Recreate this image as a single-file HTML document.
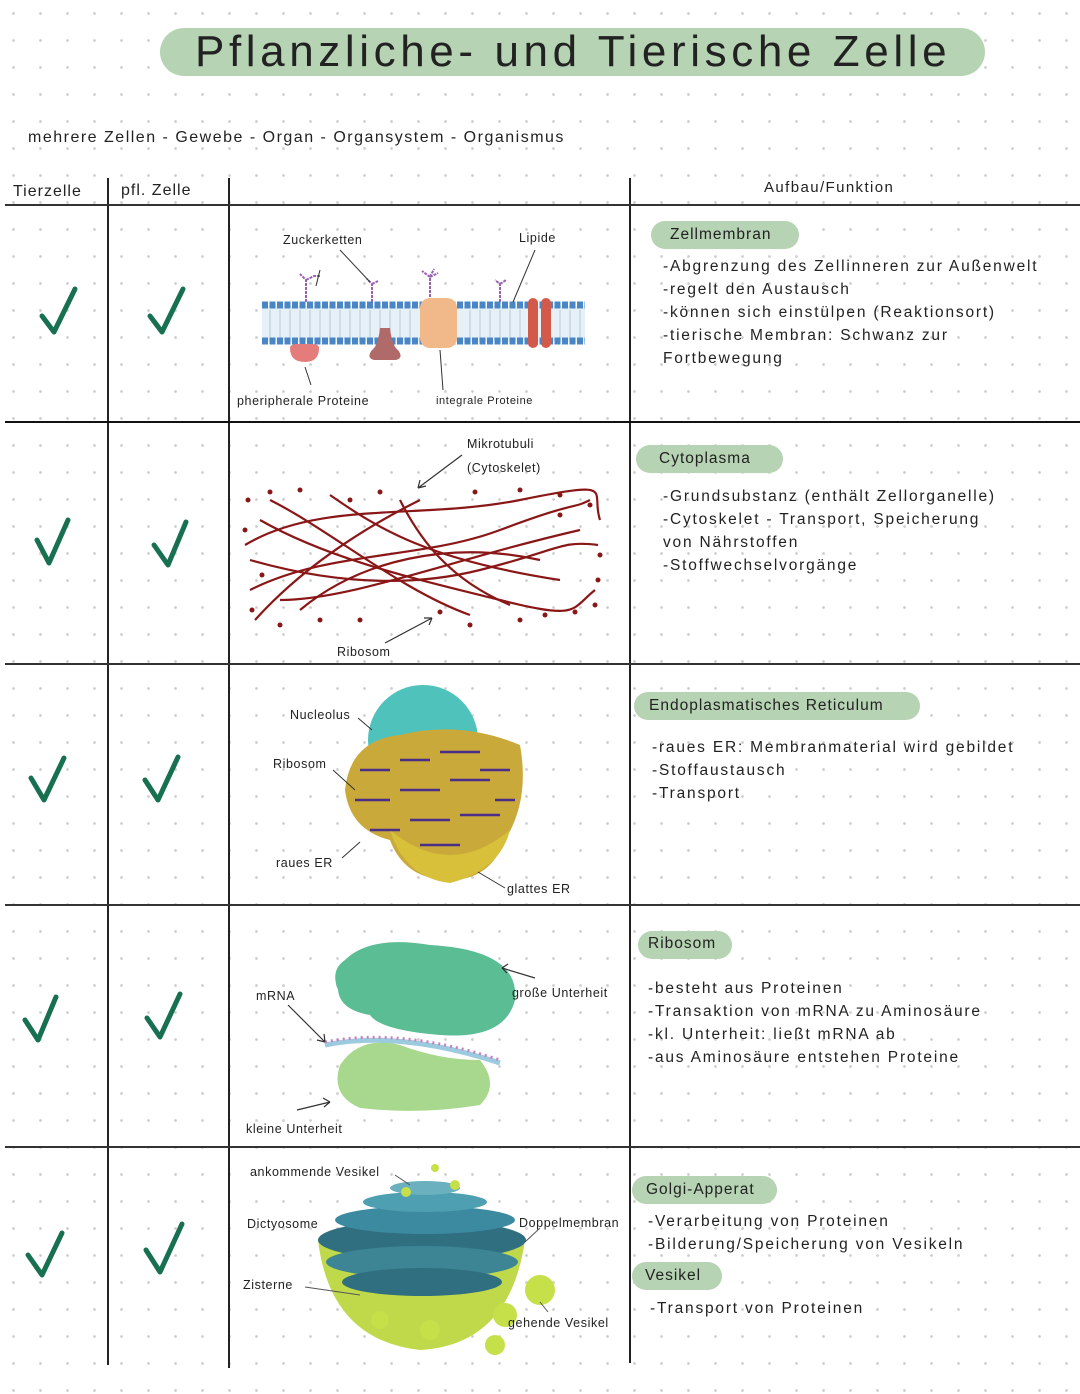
<!DOCTYPE html>
<html><head><meta charset="utf-8">
<style>
html,body{margin:0;padding:0}
body{width:1080px;height:1394px;position:relative;overflow:hidden;background:#fff;
background-image:radial-gradient(circle,#cfcfcf 1.2px,transparent 1.6px);background-size:27px 27px;background-position:0px 0px;
font-family:"Liberation Sans",sans-serif;color:#222}
.t{position:absolute;white-space:nowrap;letter-spacing:1px}
.pill{position:absolute;background:#b6d3b3;border-radius:20px}
.vl{position:absolute;width:1.5px;background:#222}
.hl{position:absolute;height:1.5px;background:#333}
.lab{font-size:12.5px;letter-spacing:.6px}
.body{font-size:15.5px;line-height:23px;letter-spacing:1.8px}
</style></head><body>
<div class="pill" style="left:160px;top:28px;width:825px;height:48px;border-radius:24px"></div>
<div class="t" style="left:195px;top:27px;font-size:44px;letter-spacing:4.6px">Pflanzliche- und Tierische Zelle</div>
<div class="t" style="left:28px;top:129px;font-size:16px;letter-spacing:1.5px">mehrere Zellen - Gewebe - Organ - Organsystem - Organismus</div>

<div class="t" style="left:13px;top:183px;font-size:16px">Tierzelle</div>
<div class="t" style="left:121px;top:182px;font-size:16px">pfl. Zelle</div>
<div class="t" style="left:764px;top:179px;font-size:15px;letter-spacing:1.4px">Aufbau/Funktion</div>

<div class="vl" style="left:107px;top:178px;height:1187px"></div>
<div class="vl" style="left:228px;top:178px;height:1190px"></div>
<div class="vl" style="left:629px;top:178px;height:1185px"></div>
<div class="hl" style="left:5px;top:204px;width:1075px"></div>
<div class="hl" style="left:5px;top:421px;width:1075px;height:2px;background:#111"></div>
<div class="hl" style="left:5px;top:663px;width:1075px"></div>
<div class="hl" style="left:5px;top:904px;width:1075px"></div>
<div class="hl" style="left:5px;top:1146px;width:1075px"></div>

<svg style="position:absolute;left:0;top:0" width="1080" height="1394">
<g stroke="#17704f" stroke-width="5" fill="none" stroke-linecap="round" stroke-linejoin="round">
<path d="M42 316 L54 332 L75 289"/><path d="M150 316 L162 332 L183 289"/>
<path d="M37 540 L49 563 L68 520"/><path d="M154 545 L168 565 L186 522"/>
<path d="M31 778 L44 800 L64 758"/><path d="M145 780 L158 800 L178 757"/>
<path d="M25 1020 L38 1040 L56 997"/><path d="M147 1018 L160 1037 L180 994"/>
<path d="M28 1255 L42 1275 L62 1233"/><path d="M146 1250 L160 1272 L182 1224"/>
</g>
<rect x="262" y="306" width="323" height="36" fill="#e5f0f7"/>
<g stroke="#b8c8d6" stroke-width="1">
<path d="M270 310v28M280 310v28M290 310v28M300 310v28M310 310v28M320 310v28M330 310v28M340 310v28M350 310v28M360 310v28M370 310v28M380 310v28M390 310v28M400 310v28M410 310v28M470 310v28M480 310v28M490 310v28M500 310v28M510 310v28M520 310v28M560 310v28M570 310v28M580 310v28"/></g>
<g fill="#4a86c5">
<path d="M262 305h323" stroke="#4a86c5" stroke-width="7" stroke-dasharray="6 1.5"/>
<path d="M262 341h323" stroke="#4a86c5" stroke-width="7" stroke-dasharray="6 1.5"/>
</g>
<path d="M290 348 q0 -4 8 -4 h13 q8 0 8 4 q0 14 -14 14 q-15 0 -15 -14z" fill="#e47c7c"/>
<path d="M372 350 q6 -4 8 -22 h10 q2 18 8 22 q6 8 -2 10 h-22 q-8 -2 -2 -10z" fill="#b06a6a"/>
<rect x="420" y="298" width="37" height="50" rx="10" fill="#f1b989"/>
<rect x="528" y="298" width="10" height="50" rx="5" fill="#d35a4a"/><rect x="541" y="298" width="10" height="50" rx="5" fill="#d35a4a"/>
<g stroke="#9b5fb5" stroke-width="2" fill="none" stroke-dasharray="3 1">
<path d="M306 302v-22 l-6 -6 M306 280 l8 -4 h6"/><path d="M372 302v-18 l-5 -5 M372 284 l6 -3"/>
<path d="M430 297v-20 l-8 -6 M430 277 l8 -4 M430 277 l4 -8"/><path d="M500 302v-18 l-5 -4 M500 284 l6 -4"/>
</g>
<g stroke="#333" stroke-width="1" fill="none"><path d="M320 270 l-4 16"/><path d="M340 250 l30 32"/><path d="M535 250 l-22 52"/><path d="M311 385 l-6 -18"/><path d="M443 390 l-3 -40"/></g>
<g stroke="#8a1717" stroke-width="2.2" fill="none">
<path d="M245 545 C320 500 420 520 520 500 S590 490 600 520"/>
<path d="M250 590 C330 550 420 560 500 530 S570 510 590 500"/>
<path d="M260 520 C330 560 420 580 500 600 S570 610 595 590"/>
<path d="M255 620 C300 570 360 530 420 500"/>
<path d="M300 610 C360 560 450 540 540 560"/>
<path d="M270 500 C330 530 400 590 470 615"/>
<path d="M330 495 C380 530 430 560 560 580"/>
<path d="M250 560 C320 580 400 590 480 570 S560 540 598 545"/>
<path d="M400 500 C420 540 450 580 510 605"/>
<path d="M280 600 C350 600 450 560 580 530"/>
</g>
<g fill="#8a1717">
<circle cx="248" cy="500" r="2.5"/><circle cx="270" cy="492" r="2.5"/><circle cx="300" cy="490" r="2.5"/><circle cx="350" cy="500" r="2.5"/><circle cx="380" cy="492" r="2.5"/><circle cx="475" cy="492" r="2.5"/><circle cx="520" cy="490" r="2.5"/><circle cx="560" cy="495" r="2.5"/><circle cx="590" cy="505" r="2.5"/><circle cx="245" cy="530" r="2.5"/><circle cx="600" cy="555" r="2.5"/><circle cx="598" cy="580" r="2.5"/><circle cx="252" cy="610" r="2.5"/><circle cx="280" cy="625" r="2.5"/><circle cx="320" cy="620" r="2.5"/><circle cx="360" cy="620" r="2.5"/><circle cx="440" cy="612" r="2.5"/><circle cx="470" cy="625" r="2.5"/><circle cx="520" cy="620" r="2.5"/><circle cx="545" cy="615" r="2.5"/><circle cx="575" cy="612" r="2.5"/><circle cx="595" cy="605" r="2.5"/><circle cx="262" cy="575" r="2.5"/><circle cx="560" cy="515" r="2.5"/>
</g>
<g stroke="#333" stroke-width="1.2" fill="none"><path d="M462 455 L418 488 M418 488 l8 -2 M418 488 l2 -8"/><path d="M385 643 L432 618 M432 618 l-8 0 M432 618 l-3 7"/></g>
<circle cx="423" cy="740" r="55" fill="#4fc2bb"/>
<path d="M345 790 Q350 740 400 735 Q460 720 520 745 Q530 800 505 840 Q490 880 450 880 Q405 880 390 840 Q350 830 345 790z" fill="#c9a93a"/>
<path d="M390 830 Q450 880 510 830 Q500 870 450 883 Q405 878 390 830z" fill="#d8c03a"/>
<g stroke="#4b2e8a" stroke-width="2.5"><path d="M360 770h30M400 760h30M440 752h40M480 770h30M355 800h35M400 790h40M450 780h40M495 800h20M370 830h30M410 820h40M460 815h40M420 845h40"/></g>
<g stroke="#333" stroke-width="1" fill="none"><path d="M358 718 L372 730"/><path d="M333 770 L355 790"/><path d="M342 858 L360 842"/><path d="M505 888 L478 872"/></g>
<path d="M345 960 Q370 935 430 945 Q520 950 515 1000 Q505 1040 440 1035 Q380 1030 370 1015 Q340 1010 338 990 Q330 970 345 960z" fill="#5bbd94"/>
<path d="M340 1065 Q360 1035 400 1045 Q440 1060 480 1060 Q500 1085 480 1105 Q420 1115 360 1108 Q330 1095 340 1065z" fill="#a8d88e"/>
<path d="M325 1045 Q400 1030 500 1063" stroke="#9ccbe0" stroke-width="5" fill="none"/>
<path d="M325 1042 Q400 1027 500 1060" stroke="#c77fbf" stroke-width="3" stroke-dasharray="2 4" fill="none"/>
<g stroke="#333" stroke-width="1.2" fill="none"><path d="M288 1005 L325 1042 M325 1042 l-1 -8 M325 1042 l-8 -2"/><path d="M535 978 L502 968 M502 968 l6 -4 M502 968 l5 5"/><path d="M297 1110 L330 1102 M330 1102 l-7 -4 M330 1102 l-6 5"/></g>
<path d="M318 1240 Q330 1340 420 1350 Q510 1345 525 1240z" fill="#bfd94a"/>
<ellipse cx="422" cy="1240" rx="104" ry="20" fill="#2f6f80"/>
<ellipse cx="422" cy="1262" rx="96" ry="16" fill="#3d8495"/>
<ellipse cx="422" cy="1282" rx="80" ry="14" fill="#2f6f80"/>
<ellipse cx="425" cy="1220" rx="90" ry="14" fill="#3c8aa0"/>
<ellipse cx="425" cy="1202" rx="62" ry="10" fill="#4e9fb2"/>
<ellipse cx="425" cy="1188" rx="35" ry="7" fill="#6ab0be"/>
<g fill="#c6e04a"><circle cx="540" cy="1290" r="15"/><circle cx="505" cy="1315" r="12"/><circle cx="495" cy="1345" r="10"/><circle cx="430" cy="1330" r="10"/><circle cx="380" cy="1320" r="9"/><circle cx="455" cy="1185" r="5"/><circle cx="406" cy="1192" r="5"/><circle cx="435" cy="1168" r="4"/></g>
<g stroke="#555" stroke-width="1" fill="none"><path d="M395 1175 L410 1185"/><path d="M305 1287 L360 1295"/><path d="M540 1228 L525 1242"/><path d="M540 1302 L548 1312"/></g>
</svg>

<div class="t lab" style="left:283px;top:233px">Zuckerketten</div>
<div class="t lab" style="left:519px;top:231px">Lipide</div>
<div class="t lab" style="left:237px;top:394px">pheripherale Proteine</div>
<div class="t lab" style="left:436px;top:395px;font-size:11px">integrale Proteine</div>
<div class="t lab" style="left:467px;top:437px">Mikrotubuli</div>
<div class="t lab" style="left:467px;top:461px">(Cytoskelet)</div>
<div class="t lab" style="left:337px;top:645px">Ribosom</div>
<div class="t lab" style="left:290px;top:708px">Nucleolus</div>
<div class="t lab" style="left:273px;top:757px">Ribosom</div>
<div class="t lab" style="left:276px;top:856px">raues ER</div>
<div class="t lab" style="left:507px;top:882px">glattes ER</div>
<div class="t lab" style="left:256px;top:989px">mRNA</div>
<div class="t lab" style="left:512px;top:986px">große Unterheit</div>
<div class="t lab" style="left:246px;top:1122px">kleine Unterheit</div>
<div class="t lab" style="left:250px;top:1165px">ankommende Vesikel</div>
<div class="t lab" style="left:247px;top:1217px">Dictyosome</div>
<div class="t lab" style="left:519px;top:1216px">Doppelmembran</div>
<div class="t lab" style="left:243px;top:1278px">Zisterne</div>
<div class="t lab" style="left:508px;top:1316px">gehende Vesikel</div>

<div class="pill" style="left:651px;top:221px;width:148px;height:28px"></div>
<div class="t" style="left:670px;top:226px;font-size:15.5px">Zellmembran</div>
<div class="t body" style="left:663px;top:255px">-Abgrenzung des Zellinneren zur Außenwelt<br>-regelt den Austausch<br>-können sich einstülpen (Reaktionsort)<br>-tierische Membran: Schwanz zur<br>Fortbewegung</div>

<div class="pill" style="left:636px;top:445px;width:147px;height:28px"></div>
<div class="t" style="left:659px;top:450px;font-size:15.5px">Cytoplasma</div>
<div class="t body" style="left:663px;top:485px">-Grundsubstanz (enthält Zellorganelle)<br>-Cytoskelet - Transport, Speicherung<br>von Nährstoffen<br>-Stoffwechselvorgänge</div>

<div class="pill" style="left:634px;top:692px;width:286px;height:28px"></div>
<div class="t" style="left:649px;top:697px;font-size:15.5px">Endoplasmatisches Reticulum</div>
<div class="t body" style="left:652px;top:736px">-raues ER: Membranmaterial wird gebildet<br>-Stoffaustausch<br>-Transport</div>

<div class="pill" style="left:638px;top:931px;width:94px;height:28px"></div>
<div class="t" style="left:648px;top:935px;font-size:15.5px">Ribosom</div>
<div class="t body" style="left:648px;top:977px">-besteht aus Proteinen<br>-Transaktion von mRNA zu Aminosäure<br>-kl. Unterheit: ließt mRNA ab<br>-aus Aminosäure entstehen Proteine</div>

<div class="pill" style="left:632px;top:1176px;width:145px;height:28px"></div>
<div class="t" style="left:646px;top:1181px;font-size:15.5px">Golgi-Apperat</div>
<div class="t body" style="left:648px;top:1210px">-Verarbeitung von Proteinen<br>-Bilderung/Speicherung von Vesikeln</div>
<div class="pill" style="left:632px;top:1262px;width:90px;height:28px"></div>
<div class="t" style="left:645px;top:1267px;font-size:15.5px">Vesikel</div>
<div class="t body" style="left:650px;top:1297px">-Transport von Proteinen</div>
</body></html>
